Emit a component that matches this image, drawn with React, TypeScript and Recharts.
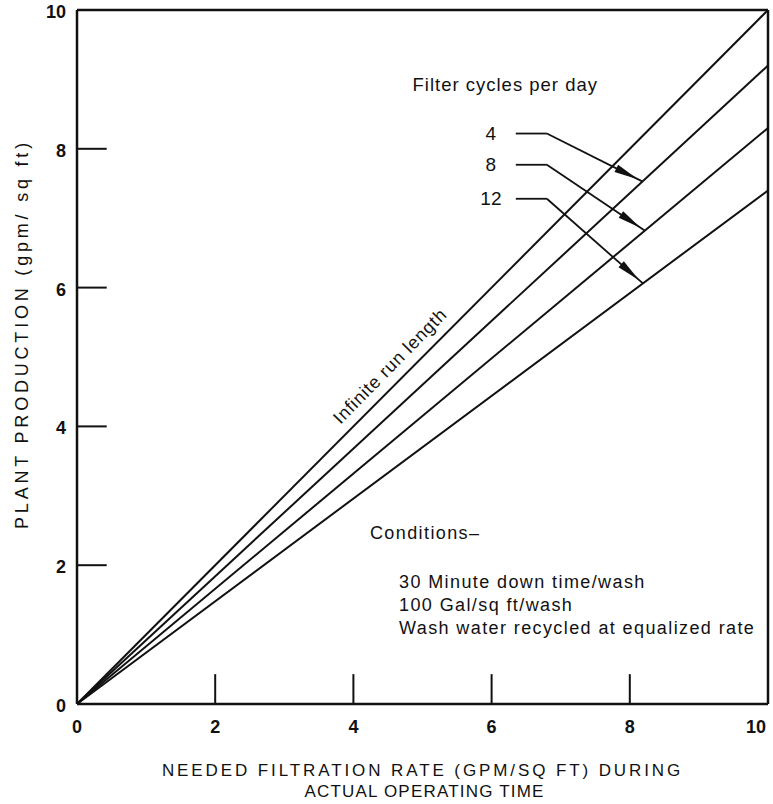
import React from "react"
import {
  LineChart,
  Line,
  XAxis,
  YAxis,
  ReferenceLine,
  ReferenceDot,
} from "recharts"

// filtration rate during actual operating time (gpm/sq ft)
const rates = [0, 10]
// plant production (gpm/sq ft) for each curve
const infiniteRun = [0, 10]
const cycles4 = [0, 9.2]
const cycles8 = [0, 8.3]
const cycles12 = [0, 7.4]

const axisTicks = [0, 2, 4, 6, 8, 10]
const innerTicks = [2, 4, 6, 8]

// leader lines from the cycle labels to the curves
const cycleLabels = ["4", "8", "12"]
const labelY = [8.22, 7.77, 7.28]
const arrowTipX = [8.18, 8.22, 8.19]
const arrowTipY = [7.53, 6.82, 6.06]

const conditionLines = [
  "30 Minute down time/wash",
  "100 Gal/sq ft/wash",
  "Wash water recycled at equalized rate",
]

const data = rates.map((r, i) => ({
  rate: r,
  infinite: infiniteRun[i],
  c4: cycles4[i],
  c8: cycles8[i],
  c12: cycles12[i],
}))

const INK = "#111"
const FONT = "'Liberation Sans', Arial, sans-serif"

const XTick = (props: any) => {
  const { x, y, payload } = props
  const shift = payload.value === 10 ? -9 : 0
  return (
    <text x={x + shift} y={y + 15} textAnchor="middle" dominantBaseline="central"
      fontFamily={FONT} fontSize={18} fontWeight="bold" fill={INK}>
      {payload.value}
    </text>
  )
}

const YTick = (props: any) => {
  const { x, y, payload } = props
  return (
    <text x={x - 3} y={y + 2} textAnchor="end" dominantBaseline="central"
      fontFamily={FONT} fontSize={18} fontWeight="bold" fill={INK}>
      {payload.value}
    </text>
  )
}

const ArrowShape = (props: any) => {
  const { x1, y1, x2, y2 } = props
  const dx = x2 - x1
  const dy = y2 - y1
  const len = Math.hypot(dx, dy) || 1
  const ux = dx / len
  const uy = dy / len
  const tx = x2 - ux * 5
  const ty = y2 - uy * 5
  const bx = tx - ux * 24
  const by = ty - uy * 24
  const hw = 4
  return (
    <g>
      <line x1={x1} y1={y1} x2={x2} y2={y2} stroke={INK} strokeWidth={1.8} />
      <polygon
        points={`${tx},${ty} ${bx - uy * hw},${by + ux * hw} ${bx + uy * hw},${by - ux * hw}`}
        fill={INK}
      />
    </g>
  )
}

const textAt = (render: (cx: number, cy: number) => React.ReactElement) => (p: any) =>
  render(p.cx, p.cy)

export default function App() {
  return (
    <div style={{ position: "absolute", left: 0, top: 0, background: "#fff" }}>
      <LineChart
        width={773}
        height={804}
        data={data}
        margin={{ top: 10, right: 5, left: 0, bottom: 0 }}
      >
        <XAxis
          dataKey="rate"
          type="number"
          domain={[0, 10]}
          ticks={axisTicks}
          height={100}
          tickLine={false}
          axisLine={{ stroke: INK, strokeWidth: 2.5 }}
          tick={<XTick />}
          label={{
            content: (p: any) => {
              const vb = p.viewBox
              const cx = vb.x + vb.width / 2
              return (
                <g>
                  <text x={cx} y={vb.y + 72} textAnchor="middle" fontFamily={FONT}
                    fontSize={17} letterSpacing={2.9} fill={INK}>
                    NEEDED FILTRATION RATE (GPM/SQ FT) DURING
                  </text>
                  <text x={cx + 2} y={vb.y + 93} textAnchor="middle" fontFamily={FONT}
                    fontSize={17} letterSpacing={1.2} fill={INK}>
                    ACTUAL OPERATING TIME
                  </text>
                </g>
              )
            },
          }}
        />
        <YAxis
          type="number"
          domain={[0, 10]}
          ticks={axisTicks}
          width={77}
          tickLine={false}
          axisLine={{ stroke: INK, strokeWidth: 2.5 }}
          tick={<YTick />}
          label={{
            content: () => (
              <text x={22} y={334} textAnchor="middle" dominantBaseline="central"
                transform="rotate(-90 22 334)" fontFamily={FONT} fontSize={18}
                letterSpacing={3.8} fill={INK}>
                PLANT PRODUCTION (gpm/ sq ft)
              </text>
            ),
          }}
        />

        {/* box top and right */}
        <ReferenceLine y={10} stroke={INK} strokeWidth={2.5} />
        <ReferenceLine x={10} stroke={INK} strokeWidth={2.5} />

        {/* inward tick marks */}
        {innerTicks.map((t) => (
          <ReferenceLine key={"yt" + t} segment={[{ x: 0, y: t }, { x: 0.43, y: t }]}
            stroke={INK} strokeWidth={2} />
        ))}
        {innerTicks.map((t) => (
          <ReferenceLine key={"xt" + t} segment={[{ x: t, y: 0 }, { x: t, y: 0.43 }]}
            stroke={INK} strokeWidth={2} />
        ))}

        <Line dataKey="infinite" type="linear" stroke={INK} strokeWidth={2} dot={false} isAnimationActive={false} />
        <Line dataKey="c4" type="linear" stroke={INK} strokeWidth={2} dot={false} isAnimationActive={false} />
        <Line dataKey="c8" type="linear" stroke={INK} strokeWidth={2} dot={false} isAnimationActive={false} />
        <Line dataKey="c12" type="linear" stroke={INK} strokeWidth={2} dot={false} isAnimationActive={false} />

        {/* leader lines with arrows */}
        {cycleLabels.map((c, i) => (
          <ReferenceLine key={"h" + c}
            segment={[{ x: 6.35, y: labelY[i] }, { x: 6.8, y: labelY[i] }]}
            stroke={INK} strokeWidth={1.8} />
        ))}
        {cycleLabels.map((c, i) => (
          <ReferenceLine key={"a" + c}
            segment={[{ x: 6.8, y: labelY[i] }, { x: arrowTipX[i], y: arrowTipY[i] }]}
            shape={<ArrowShape />} />
        ))}
        {cycleLabels.map((c, i) => (
          <ReferenceDot key={"l" + c} x={5.99} y={labelY[i]} r={1}
            shape={textAt((cx, cy) => (
              <text x={cx} y={cy} textAnchor="middle" dominantBaseline="central"
                fontFamily={FONT} fontSize={19} fill={INK}>{c}</text>
            ))} />
        ))}

        <ReferenceDot x={7.54} y={8.93} r={1}
          shape={textAt((cx, cy) => (
            <text x={cx} y={cy} textAnchor="end" dominantBaseline="central"
              fontFamily={FONT} fontSize={18.5} letterSpacing={1} fill={INK}>
              Filter cycles per day
            </text>
          ))} />

        <ReferenceDot x={4.53} y={4.87} r={1}
          shape={textAt((cx, cy) => (
            <text x={cx} y={cy} textAnchor="middle" dominantBaseline="central"
              transform={`rotate(-45.5 ${cx} ${cy})`}
              fontFamily={FONT} fontSize={18} letterSpacing={0.8} fill={INK}>
              Infinite run length
            </text>
          ))} />

        <ReferenceDot x={4.24} y={2.46} r={1}
          shape={textAt((cx, cy) => (
            <text x={cx} y={cy} dominantBaseline="central"
              fontFamily={FONT} fontSize={18} letterSpacing={1.4} fill={INK}>
              Conditions–
            </text>
          ))} />

        <ReferenceDot x={4.66} y={1.76} r={1}
          shape={textAt((cx, cy) => (
            <text fontFamily={FONT} fontSize={18} letterSpacing={1.4} fill={INK}
              dominantBaseline="central">
              {conditionLines.map((t, i) => (
                <tspan key={t} x={cx} y={cy + i * 23}>{t}</tspan>
              ))}
            </text>
          ))} />
      </LineChart>
    </div>
  )
}
